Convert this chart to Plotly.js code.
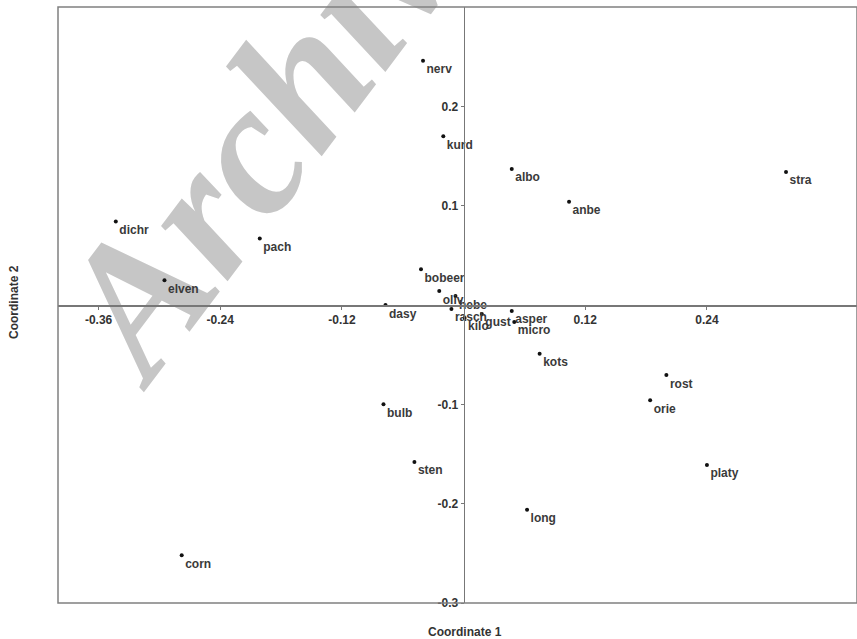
<!DOCTYPE html>
<html>
<head>
<meta charset="utf-8">
<script src="https://cdn.plot.ly/plotly-3.0.1.min.js"></script>
<style>html,body{margin:0;padding:0;background:#fff;}#chart{width:857px;height:639px;}</style>
</head>
<body>
<div id="chart"></div>
<script>
const names = ["nerv","kurd","albo","anbe","stra","dichr","pach","elven","bobeer","oliv","hebe","dasy","rasch","gust","kilo","asper","micro","kots","rost","orie","bulb","sten","platy","long","corn"];
const coord1 = [-0.040,-0.020,0.0475,0.104,0.318,-0.343,-0.201,-0.295,-0.042,-0.024,-0.008,-0.077,-0.012,0.018,0.001,0.0475,0.050,0.075,0.200,0.184,-0.079,-0.0485,0.240,0.0626,-0.278];
const coord2 = [0.246,0.170,0.137,0.104,0.134,0.084,0.067,0.025,0.036,0.014,0.009,0.000,-0.004,-0.009,-0.013,-0.006,-0.017,-0.049,-0.0705,-0.096,-0.100,-0.158,-0.161,-0.206,-0.252];
const xTicks = [-0.36,-0.24,-0.12,0.12,0.24];
const xTickText = ["-0.36","-0.24","-0.12","0.12","0.24"];
const yTicks = [0.2,0.1,-0.1,-0.2,-0.3];
const yTickText = ["0.2","0.1","-0.1","-0.2","-0.3"];

const xRange = [-0.4, 0.388];
const yRange = [-0.3, 0.3];
const yAxisPos = (0 - xRange[0]) / (xRange[1] - xRange[0]);
const xAxisPos = (0 - yRange[0]) / (yRange[1] - yRange[0]);

const trace = {
  type: 'scatter', mode: 'markers+text',
  x: coord1, y: coord2, text: names,
  textposition: 'bottom right',
  textfont: {family: 'Liberation Sans, Arial, sans-serif', size: 12, color: '#3a3a3a', weight: 'bold'},
  marker: {size: 4, color: '#111'},
  cliponaxis: false,
  hoverinfo: 'none'
};

const tickFont = {family: 'Liberation Sans, Arial, sans-serif', size: 12, color: '#333', weight: 'bold'};

const layout = {
  width: 857, height: 639,
  margin: {l: 58, r: 0, t: 7, b: 36},
  paper_bgcolor: '#fff', plot_bgcolor: '#fff',
  showlegend: false,
  xaxis: {
    range: xRange, anchor: 'free', position: xAxisPos,
    showgrid: false, zeroline: false, showline: true, linecolor: '#777', linewidth: 1.5,
    tickmode: 'array', tickvals: xTicks, ticktext: xTickText,
    ticks: 'outside', ticklen: 3, tickcolor: '#777', tickfont: tickFont
  },
  yaxis: {
    range: yRange, anchor: 'free', position: yAxisPos,
    showgrid: false, zeroline: false, showline: true, linecolor: '#777', linewidth: 1.5,
    tickmode: 'array', tickvals: yTicks, ticktext: yTickText,
    ticks: 'outside', ticklen: 3, tickcolor: '#777', tickfont: tickFont
  },
  shapes: [{type: 'rect', xref: 'paper', yref: 'paper', x0: 0, x1: 1, y0: 0, y1: 1,
            line: {color: '#808080', width: 1.5}}],
  annotations: [
    {text: 'Coordinate 1', xref: 'paper', yref: 'paper', x: (465-58)/799, y: -(632-603)/596,
     xanchor: 'center', yanchor: 'middle', showarrow: false,
     font: {family: 'Liberation Sans, Arial, sans-serif', size: 12, color: '#333', weight: 'bold'}},
    {text: 'Coordinate 2', xref: 'paper', yref: 'paper', x: -(58-14)/799, y: (603-302)/596,
     xanchor: 'center', yanchor: 'middle', showarrow: false, textangle: -90,
     font: {family: 'Liberation Sans, Arial, sans-serif', size: 12, color: '#333', weight: 'bold'}},
    {text: 'Archive', xref: 'paper', yref: 'paper', x: (278-58)/799, y: (603-108)/596,
     xanchor: 'center', yanchor: 'middle', showarrow: false, textangle: -53,
     font: {family: 'Liberation Serif, serif', size: 188, color: '#c6c6c6', weight: 'bold', style: 'italic'}}
  ]
};

const gd = document.getElementById('chart');
Plotly.newPlot(gd, [trace], layout, {displayModeBar: false, staticPlot: true}).then(function () {
  const anns = gd.querySelectorAll('.infolayer .annotation');
  const wm = anns[2];
  const main = gd.querySelector('.main-svg');
  const cart = main.querySelector('.cartesianlayer');
  if (wm && cart) main.insertBefore(wm, cart);
});
</script>
</body>
</html>
